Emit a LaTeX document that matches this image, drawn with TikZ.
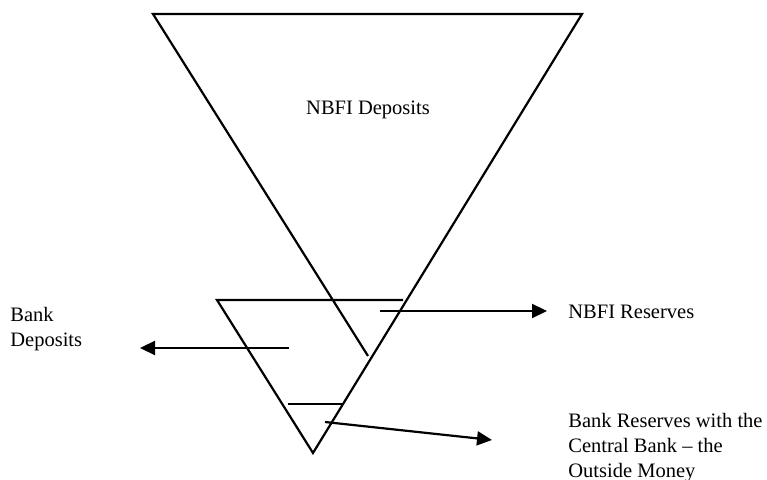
\documentclass[tikz,border=0pt]{standalone}
\usepackage{fontspec}
\setmainfont{Liberation Serif}
\usetikzlibrary{arrows.meta}

\begin{document}
\begin{tikzpicture}[
    x=0.5pt, y=-0.5pt,
    edge/.style={line width=1.1pt, line join=miter},
    arrow/.style={line width=1.1pt, -{Triangle[length=7.5pt, width=7pt]}},
    txt/.style={font=\fontsize{10.25}{12.5}\selectfont, align=left, inner sep=0pt}
]
\useasboundingbox (0,0) rectangle (767,480);

% NBFI triangle
\coordinate (bigL) at (153,14);
\coordinate (bigR) at (582,14);
\coordinate (bigEnd) at (368,356);

% bank triangle
\coordinate (smL) at (217,300);
\coordinate (smR) at (403,300);
\coordinate (apex) at (313,453);
\coordinate (resL) at (288,404);
\coordinate (resR) at (343,404);

\draw[edge] (smR) -- (smL) -- (apex) -- (bigR) -- (bigL) -- (bigEnd);
\draw[edge] (resL) -- (resR);

% labels
\node[txt] (nbfiDep) at (368,110) {NBFI Deposits};
\node[txt, anchor=west] (nbfiRes) at (568,312) {NBFI Reserves};
\node[txt, anchor=west] (bankDep) at (10,329) {Bank\\Deposits};
\node[txt, anchor=west] (bankRes) at (568,448) {Bank Reserves with the\\Central Bank -- the\\Outside Money};

% arrows
\coordinate (depFrom) at (289,348);
\coordinate (depTo) at (140,348);
\coordinate (nbfiFrom) at (380,311);
\coordinate (nbfiTo) at (547,311);
\coordinate (cbFrom) at (325,422);
\coordinate (cbTo) at (492,440);

\draw[arrow] (depFrom) -- (depTo);
\draw[arrow] (nbfiFrom) -- (nbfiTo);
\draw[arrow] (cbFrom) -- (cbTo);

\end{tikzpicture}
\end{document}
